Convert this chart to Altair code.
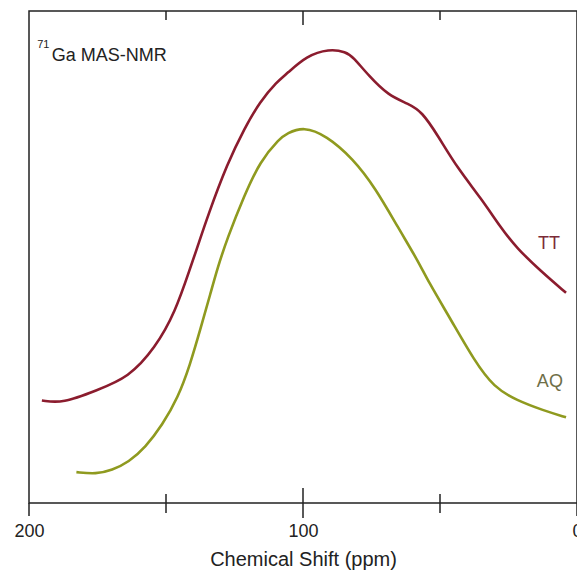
import altair as alt
import pandas as pd

# TT spectrum (ppm, intensity a.u.)
tt_ppm = [195.3, 187.7, 175.5, 163.6, 153.9, 146.7, 140.9, 138.4, 134.8, 127.6,
          121.4, 115.7, 109.5, 105.9, 98.7, 90.5, 84.3, 81.8, 76.0, 68.8,
          61.6, 56.6, 50.8, 43.6, 35.0, 27.7, 22.0, 13.3, 4.0]
tt_int = [103, 100, 113, 126, 156, 191, 238, 258, 288, 341,
          376, 403, 423, 431, 449, 456, 453, 448, 429, 409,
          401, 393, 369, 336, 306, 276, 256, 233, 211]

# AQ spectrum
aq_ppm = [182.7, 175.5, 169.7, 163.6, 157.5, 151.4, 145.6, 141.3, 137.3, 133.7,
          131.2, 127.6, 121.4, 115.7, 108.5, 105.9, 99.8, 91.5, 81.8, 73.5,
          65.2, 58.0, 54.4, 45.8, 37.5, 30.3, 22.0, 12.3, 4.0]
aq_int = [31, 29, 33, 41, 56, 78, 106, 138, 176, 211,
          236, 266, 309, 343, 366, 371, 378, 369, 346, 316,
          276, 243, 223, 183, 143, 116, 103, 93, 86]

tick_values = [200, 150, 100, 50, 0]
minor_ticks = [150, 50]
major_ticks = [100]
end_ticks = [200, 0]

series_labels = ["TT", "AQ"]
label_ppm = [10.2, 9.9]
label_int = [260, 121]

FONT = "Liberation Sans"
TT_COLOR = "#8b1c2e"
AQ_COLOR = "#8f9a1f"

df = pd.concat([
    pd.DataFrame({"ppm": tt_ppm, "intensity": tt_int, "sample": "TT"}),
    pd.DataFrame({"ppm": aq_ppm, "intensity": aq_int, "sample": "AQ"}),
])

H = 492
xscale = alt.Scale(domain=[0, 200], reverse=True, nice=False)
yscale = alt.Scale(domain=[0, 494], nice=False)

lines = alt.Chart(df).mark_line(strokeWidth=2.6, interpolate="basis").encode(
    x=alt.X("ppm:Q", scale=xscale,
            axis=alt.Axis(values=tick_values, title="Chemical Shift (ppm)",
                          labelExpr="datum.value % 100 === 0 ? datum.label : ''",
                          grid=False, domain=False, tickSize=12, tickOpacity=0,
                          labelPadding=7, labelFontSize=18, labelFont=FONT,
                          labelColor="#222", titleFont=FONT, titleFontSize=20,
                          titleFontWeight="normal", titleColor="#222",
                          titlePadding=9, labelFlush=False)),
    y=alt.Y("intensity:Q", scale=yscale, axis=None),
    color=alt.Color("sample:N", scale=alt.Scale(domain=["TT", "AQ"],
                                                range=[TT_COLOR, AQ_COLOR]),
                    legend=None),
    order=alt.Order("ppm:Q", sort="descending"),
)


def rules(vals, y1, y2):
    return alt.Chart(pd.DataFrame({"t": vals})).mark_rule(
        color="#222", strokeWidth=1.5).encode(
        x=alt.X("t:Q", scale=xscale), y=alt.value(y1), y2=alt.value(y2))


tick_layers = [
    rules(minor_ticks, H - 9, H + 10),
    rules(major_ticks, H - 15, H + 15),
    rules(end_ticks, H, H + 13),
    rules(minor_ticks, 0, 9),
    rules(major_ticks, 0, 14),
]

lab_df = pd.DataFrame({"ppm": label_ppm, "intensity": label_int, "sample": series_labels})
labels = alt.Chart(lab_df).mark_text(font=FONT, fontSize=18, align="center",
                                     baseline="middle").encode(
    x=alt.X("ppm:Q", scale=xscale),
    y=alt.Y("intensity:Q", scale=yscale),
    text="sample:N",
    color=alt.Color("sample:N", scale=alt.Scale(domain=["TT", "AQ"],
                                                range=["#7b2b38", "#6f6f48"]),
                    legend=None),
)

title_df = pd.DataFrame({"ppm": [197.0, 191.7], "intensity": [460, 449],
                         "txt": ["71", "Ga MAS-NMR"]})
sup = alt.Chart(title_df.iloc[[0]]).mark_text(
    font=FONT, fontSize=11, align="left", baseline="middle", color="#222").encode(
    x=alt.X("ppm:Q", scale=xscale), y=alt.Y("intensity:Q", scale=yscale), text="txt:N")
main = alt.Chart(title_df.iloc[[1]]).mark_text(
    font=FONT, fontSize=18, align="left", baseline="middle", color="#222").encode(
    x=alt.X("ppm:Q", scale=xscale), y=alt.Y("intensity:Q", scale=yscale), text="txt:N")

chart = alt.layer(lines, *tick_layers, labels, sup, main).properties(
    width=548, height=H,
    autosize=alt.AutoSizeParams(type="none"),
    padding={"left": 21, "top": 3, "right": 0, "bottom": 74},
).resolve_scale(color="independent").configure_view(
    stroke="#222", strokeWidth=1.5
)

chart.save("out.html", embed_options={"renderer": "svg", "actions": False})
